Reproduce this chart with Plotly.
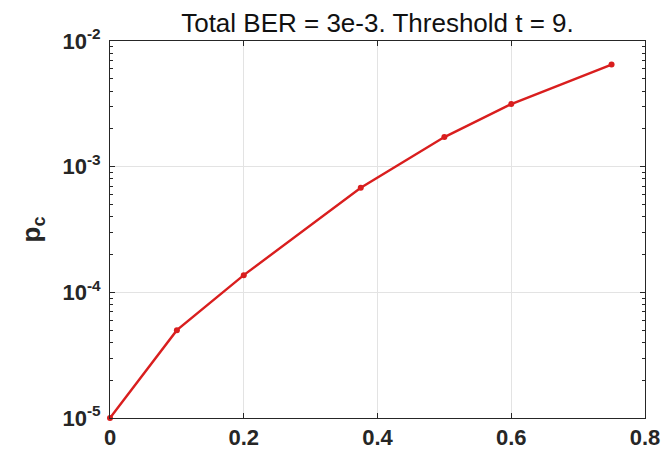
import plotly.graph_objects as go

# data
x_vals = [0, 0.1, 0.2, 0.375, 0.5, 0.6, 0.75]
pc_vals = [1.0e-5, 5.0e-5, 1.37e-4, 6.8e-4, 1.72e-3, 3.15e-3, 6.5e-3]
x_ticks = [0, 0.2, 0.4, 0.6, 0.8]
x_ticktext = ["0", "0.2", "0.4", "0.6", "0.8"]
y_ticks = [1e-5, 1e-4, 1e-3, 1e-2]
y_ticktext = ["10<sup>-5</sup>", "10<sup>-4</sup>", "10<sup>-3</sup>", "10<sup>-2</sup>"]

title_text = "Total BER = 3e-3. Threshold t = 9."

axis_color = "#262626"
line_color = "#d91e1e"

fig = go.Figure()
fig.add_trace(go.Scatter(
    x=x_vals, y=pc_vals, mode="lines+markers",
    line=dict(color=line_color, width=2.4),
    marker=dict(color=line_color, size=6),
    showlegend=False, cliponaxis=False,
))

fig.update_layout(
    width=664, height=455,
    margin=dict(l=110, r=19, t=41, b=37, autoexpand=False),
    paper_bgcolor="white", plot_bgcolor="white",
    font=dict(family="Liberation Sans, Arial, sans-serif", color=axis_color),
    title=dict(text=title_text, x=377.5 / 664,
               xanchor="center", y=1 - 23 / 455, yanchor="middle",
               font=dict(size=26, color="#111111")),
)

fig.update_xaxes(
    range=[0, 0.8], tickvals=x_ticks, automargin=False,
    ticktext=["<b>%s</b>" % t for t in x_ticktext],
    tickfont=dict(size=22, color=axis_color),
    showline=True, linecolor=axis_color, linewidth=1, mirror="allticks",
    ticks="inside", ticklen=5, tickcolor=axis_color,
    showgrid=True, gridcolor="#e3e3e3", gridwidth=1,
    zeroline=False,
)

fig.update_yaxes(
    type="log", range=[-5, -2], tickvals=y_ticks, automargin=False,
    ticktext=["<b>%s</b>" % t for t in y_ticktext],
    tickfont=dict(size=22, color=axis_color), ticklabelstandoff=4,
    showline=True, linecolor=axis_color, linewidth=1, mirror="allticks",
    ticks="inside", ticklen=5, tickcolor=axis_color,
    minor=dict(ticks="inside", ticklen=3, tickcolor=axis_color, showgrid=False, dtick="D1"),
    showgrid=True, gridcolor="#e3e3e3", gridwidth=1,
    zeroline=False,
    title=dict(text="<b>p<sub>c</sub></b>", font=dict(size=26, color=axis_color), standoff=14),
)

fig.write_html("out.html")
